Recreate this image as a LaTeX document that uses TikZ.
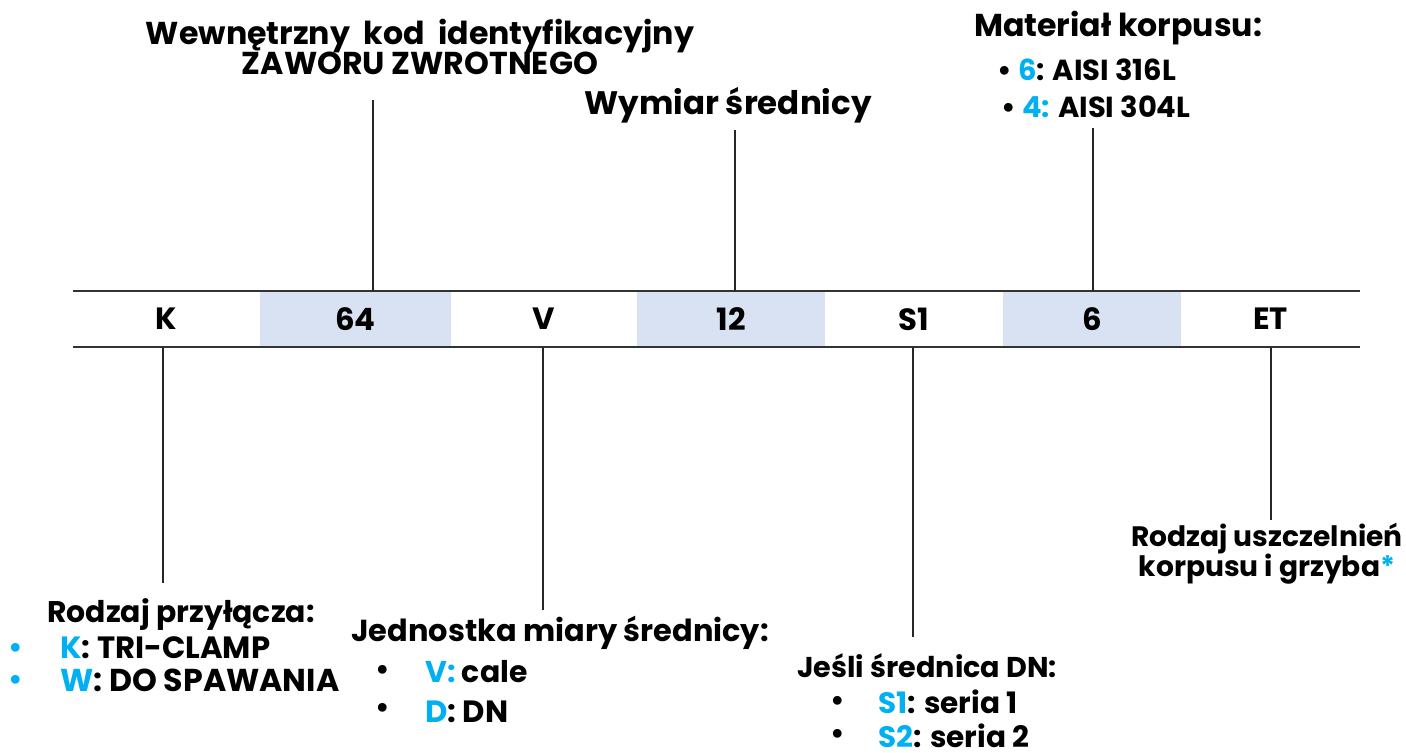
\documentclass[tikz,border=0pt]{standalone}
\usepackage{fontspec}
\setmainfont{Poppins}
\usepackage{xcolor}
\usetikzlibrary{positioning}
\definecolor{cellblue}{HTML}{D9E2F3}
\definecolor{codecyan}{HTML}{00B0F0}
\newcommand{\hl}[1]{\textcolor{codecyan}{#1}}

\begin{document}
\begin{tikzpicture}[x=0.02cm,y=-0.02cm,
  cell/.style={minimum height=1.12cm,inner sep=0,font=\fontsize{17.5}{20}\selectfont\bfseries},
  shaded/.style={cell,fill=cellblue},
  lbl/.style={inner sep=0,font=\fontsize{#1}{#1}\selectfont\bfseries},
  lbl/.default=16.5,
  conn/.style={draw=black!85,line width=0.6pt},
  rule/.style={draw=black!80,line width=1.1pt}]
\useasboundingbox (0,0) rectangle (1406,753);
% code cells
\node[cell,minimum width=3.74cm] (cK) at (166.5,319) {K};
\node[shaded,minimum width=3.82cm] (c64) at (355.5,319) {64};
\node[cell,minimum width=3.72cm] (cV) at (544,319) {V};
\node[shaded,minimum width=3.76cm] (c12) at (731,319) {12};
\node[cell,minimum width=3.56cm] (cS1) at (914,319) {S1};
\node[shaded,minimum width=3.56cm] (c6) at (1092,319) {6};
\node[cell,minimum width=3.58cm] (cET) at (1270.5,319) {ET};
\draw[rule] (cK.north west) -- (cET.north east);
\draw[rule] (cK.south west) -- (cET.south east);
% labels above
\node[lbl=18,align=center] (lblcode) at (420,47) {Wewnętrzny~~kod~~identyfikacyjny\\[-1pt]ZAWORU ZWROTNEGO};
\node[lbl=18.5] (lblsize) at (728,105) {Wymiar średnicy};
\node[lbl=18] (lblmat) at (1118,28) {Materiał korpusu:};
\node[lbl,anchor=west] (mat6) at (997,70) {\textbullet\ \hl{6}: AISI 316L};
\node[lbl,anchor=west] (mat4) at (1001,107) {\textbullet\ \hl{4:} AISI 304L};
% labels below
\node[lbl=17] (lblconn) at (181,615) {Rodzaj przyłącza:};
\node[lbl=17.5,anchor=west] (conK) at (60,648) {\hl{K}: TRI-CLAMP};
\node[lbl=18,anchor=west] (conW) at (60,680) {\hl{W}: DO SPAWANIA};
\node[lbl,text=codecyan] (bulK) at (16,650) {\textbullet};
\node[lbl,text=codecyan] (bulW) at (16,682) {\textbullet};
\node[lbl=17.3] (lblunit) at (560,633) {Jednostka miary średnicy:};
\node[lbl] (bulV) at (383,672) {\textbullet};
\node[lbl] (bulD) at (383,710) {\textbullet};
\node[lbl=17,anchor=west] (unitV) at (425,672) {\hl{V:} cale};
\node[lbl=17.5,anchor=west] (unitD) at (425,712) {\hl{D}: DN};
\node[lbl=16.3] (lbldn) at (927,666) {Jeśli średnica DN:};
\node[lbl] (bulS1) at (838,703) {\textbullet};
\node[lbl] (bulS2) at (838,736) {\textbullet};
\node[lbl=16.8,anchor=west] (dnS1) at (878,702) {\hl{S1}: seria 1};
\node[lbl=16.8,anchor=west] (dnS2) at (878,736) {\hl{S2}: seria 2};
\node[lbl=16,align=center] (lblseal) at (1267,554) {Rodzaj uszczelnień\\[-1pt]korpusu i grzyba\hl{*}};
% connectors
\coordinate (e64) at (373,100);
\coordinate (e12) at (735,130);
\coordinate (e6) at (1093,128);
\coordinate (eK) at (163,583);
\coordinate (eV) at (543,610);
\coordinate (eS1) at (913,637);
\coordinate (eET) at (1271,520);
\draw[conn] (e64 |- c64.north) -- (e64);
\draw[conn] (e12 |- c12.north) -- (e12);
\draw[conn] (e6 |- c6.north) -- (e6);
\draw[conn] (eK |- cK.south) -- (eK);
\draw[conn] (eV |- cV.south) -- (eV);
\draw[conn] (eS1 |- cS1.south) -- (eS1);
\draw[conn] (eET |- cET.south) -- (eET);
\end{tikzpicture}
\end{document}
